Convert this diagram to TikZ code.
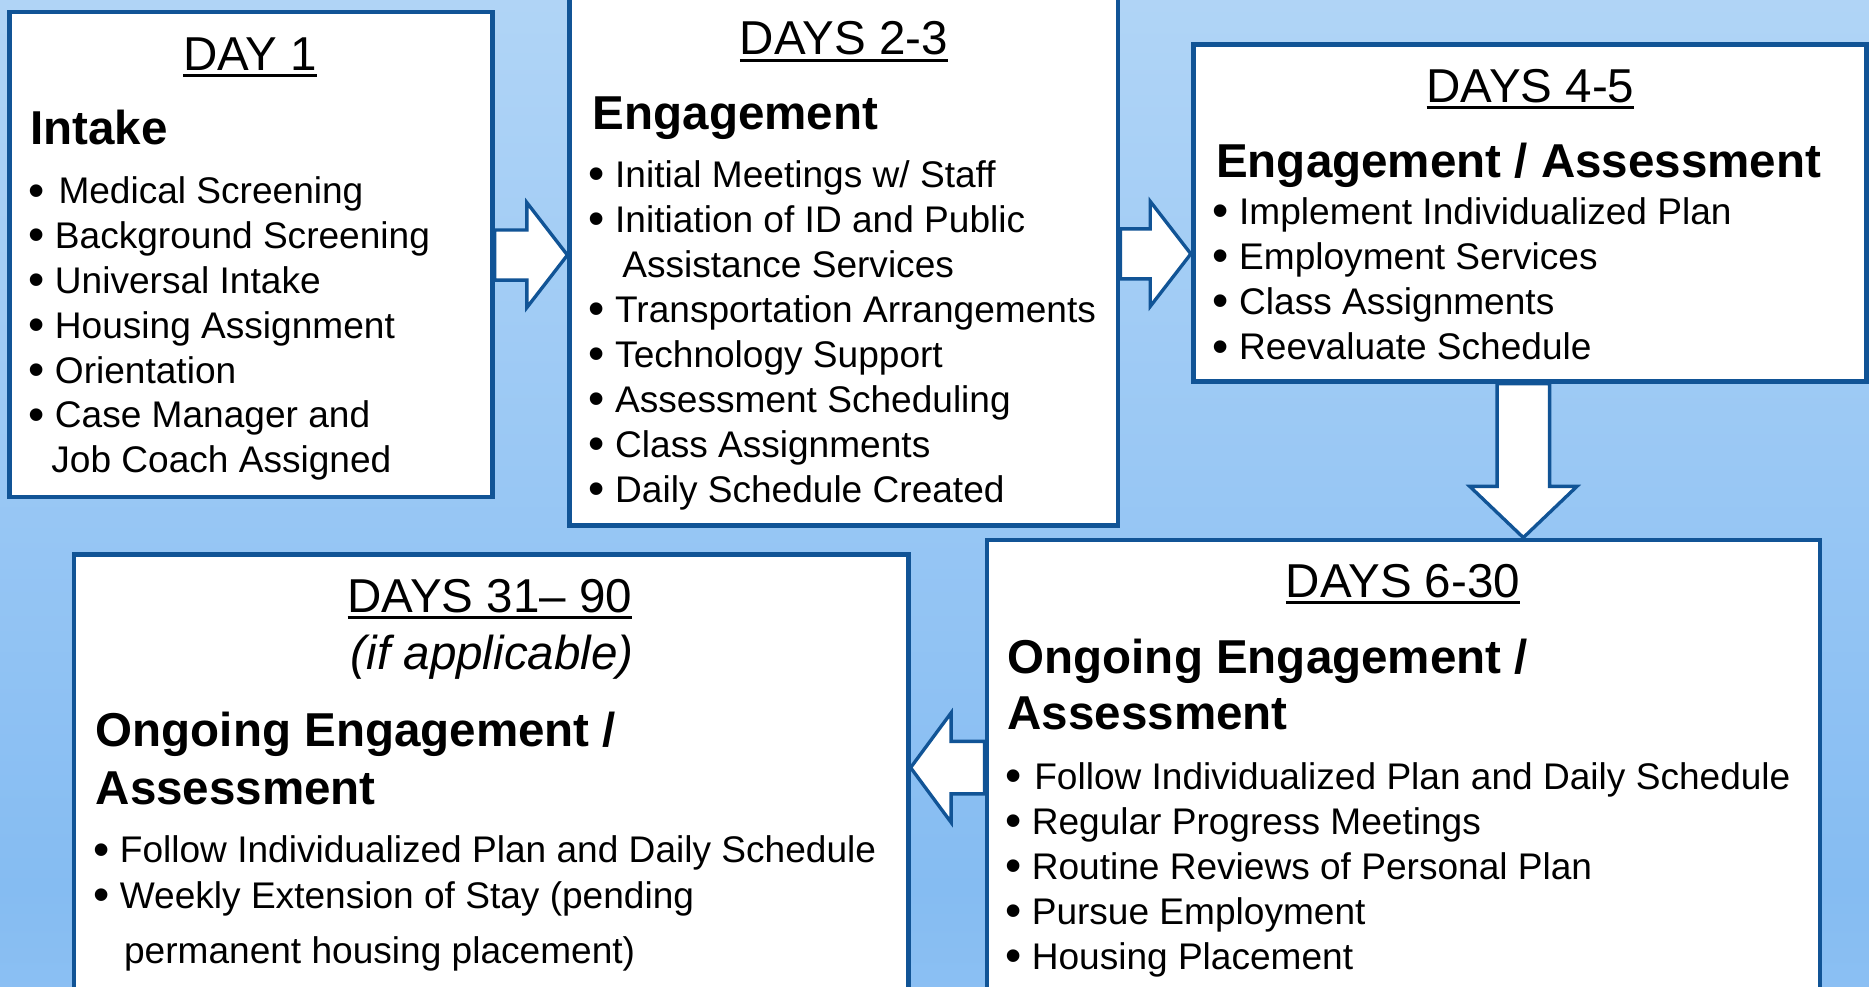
\documentclass[tikz,border=0pt]{standalone}
\usepackage{fontspec}
\setmainfont{Liberation Sans}
\usetikzlibrary{calc}

\definecolor{boxblue}{RGB}{17,84,150}
\definecolor{bgtop}{RGB}{200,226,249}
\definecolor{bgmid}{RGB}{133,188,242}
\definecolor{bgbot}{RGB}{168,208,246}

\pgfdeclareverticalshading{bgshade}{100bp}{color(0bp)=(bgbot); color(30bp)=(bgmid); color(100bp)=(bgtop)}
\pgfdeclarelayer{back}
\pgfdeclarelayer{mid}
\pgfsetlayers{back,mid,main}

% underlined day heading
\newcommand{\dayline}[1]{\setbox0\hbox{#1}\rlap{\rule[-3.2pt]{\wd0}{1.4pt}}\box0}
% list bullet
\newcommand{\bul}{\raisebox{-1.1pt}{\scalebox{1.25}{\textbullet}}\ }

\begin{document}
\begin{tikzpicture}[x=0.02cm, y=-0.02cm,
  box/.style={draw=boxblue, fill=white, line width=2.3pt, inner sep=0pt},
  blockarrow/.style={draw=boxblue, fill=white, line width=1.6pt, line join=miter},
  daytitle/.style={font=\fontsize{22.7}{27}\selectfont, anchor=base, inner sep=0pt},
  heading/.style={font=\fontsize{22.7}{27}\selectfont\bfseries, anchor=base west, inner sep=0pt},
  item/.style={font=\fontsize{17.7}{21}\selectfont, anchor=base west, inner sep=0pt}]

  % Picture size
  \useasboundingbox (0,0) rectangle (1568,828);
  \clip (0,0) rectangle (1568,828);

  % Background
  \begin{pgfonlayer}{back}
    \fill[shading=bgshade] (0,0) rectangle (1568,828);
  \end{pgfonlayer}

  % Boxes
  \node[box, minimum width=8.1cm, minimum height=8.14cm] (day1) at (210.5,213.5) {};
  \node[box, minimum width=9.2cm, minimum height=8.9cm] (day2) at (708,218.5) {};
  \node[box, minimum width=11.3cm, minimum height=5.66cm] (day3) at (1283.5,178.5) {};
  \node[box, minimum width=13.98cm, minimum height=7.74cm] (day4) at (1177.5,646.5) {};
  \node[box, minimum width=14cm, minimum height=7.5cm] (day5) at (412,652.5) {};

  % DAY 1
  \node[daytitle] (t1) at (210,59) {\dayline{DAY 1}};
  \node[heading] (h1) at (25,121) {Intake};
  \foreach \t [count=\i] in {{\bul\hspace{1.7pt}Medical Screening}, {\bul Background Screening},
      {\bul Universal Intake}, {\bul Housing Assignment}, {\bul Orientation},
      {\bul Case Manager and}, {\hphantom{\bul}\hspace{-1.7pt}Job Coach Assigned}}
    \node[item] (d1-\i) at (23.5,{171+(\i-1)*37.6}) {\t};

  % DAYS 2-3
  \node[daytitle] (t2) at (708,46) {\dayline{DAYS 2-3}};
  \node[heading] (h2) at (497,109) {Engagement};
  \foreach \t [count=\i] in {{\bul Initial Meetings w/ Staff}, {\bul Initiation of ID and Public},
      {\hphantom{\bul}\hspace{3.4pt}Assistance Services}, {\bul Transportation Arrangements},
      {\bul Technology Support}, {\bul Assessment Scheduling},
      {\bul Class Assignments}, {\bul Daily Schedule Created}}
    \node[item] (d2-\i) at (493.5,{157+(\i-1)*37.8}) {\t};

  % DAYS 4-5
  \node[daytitle] (t3) at (1284,86) {\dayline{DAYS 4-5}};
  \node[heading] (h3) at (1020,149) {Engagement / Assessment};
  \foreach \t [count=\i] in {Implement Individualized Plan, Employment Services,
      Class Assignments, Reevaluate Schedule}
    \node[item] (d3-\i) at (1017,{188+(\i-1)*38}) {\bul\t};

  % DAYS 6-30
  \node[daytitle] (t4) at (1177,501) {\dayline{DAYS 6-30}};
  \node[heading] (h4a) at (845,565) {Ongoing Engagement /};
  \node[heading] (h4b) at (845,612) {Assessment};
  \foreach \t [count=\i] in {{\hspace{1.2pt}Follow Individualized Plan and Daily Schedule}, Regular Progress Meetings,
      Routine Reviews of Personal Plan, Pursue Employment, Housing Placement}
    \node[item] (d4-\i) at (843,{662+(\i-1)*37.75}) {\bul\t};

  % DAYS 31-90
  \node[daytitle] (t5) at (411,514) {\dayline{DAYS 31\textendash{} 90}};
  \node[daytitle, font=\fontsize{22.7}{27}\selectfont\itshape] (t5b) at (413,562) {(if applicable)};
  \node[heading] (h5a) at (80,626) {Ongoing Engagement /};
  \node[heading] (h5b) at (80,675) {Assessment};
  \node[item] (d5-1) at (78,724) {\bul Follow Individualized Plan and Daily Schedule};
  \node[item] (d5-2) at (78,762) {\bul Weekly Extension of Stay (pending};
  \node[item] (d5-3) at (78,808) {\hphantom{\bul}\hspace{2pt}permanent housing placement)};

  % Block arrows
  \def\sh{21} % half shaft
  \def\hd{44} % half head
  \def\hl{34} % head length
  \begin{pgfonlayer}{mid}
    % day 1 -> days 2-3
    \coordinate (a12) at (day2.west |- 0,214);
    \draw[blockarrow] ($(day1.east |- a12)+(0,-\sh)$) -- ($(a12)+(-\hl,-\sh)$) -- ($(a12)+(-\hl,-\hd)$)
      -- (a12) -- ($(a12)+(-\hl,\hd)$) -- ($(a12)+(-\hl,\sh)$) -- ($(day1.east |- a12)+(0,\sh)$) -- cycle;
    % days 2-3 -> days 4-5
    \coordinate (a23) at (day3.west |- 0,213);
    \draw[blockarrow] ($(day2.east |- a23)+(0,-\sh)$) -- ($(a23)+(-\hl,-\sh)$) -- ($(a23)+(-\hl,-\hd)$)
      -- (a23) -- ($(a23)+(-\hl,\hd)$) -- ($(a23)+(-\hl,\sh)$) -- ($(day2.east |- a23)+(0,\sh)$) -- cycle;
    % days 4-5 -> days 6-30
    \coordinate (a34) at (1278,0 |- day4.north);
    \draw[blockarrow] ($(a34 |- day3.south)+(-22,0)$) -- ($(a34)+(-22,-43)$) -- ($(a34)+(-45,-43)$)
      -- (a34) -- ($(a34)+(45,-43)$) -- ($(a34)+(22,-43)$) -- ($(a34 |- day3.south)+(22,0)$) -- cycle;
    % days 6-30 -> days 31-90
    \coordinate (a45) at (day5.east |- 0,644);
    \draw[blockarrow] ($(day4.west |- a45)+(0,-22)$) -- ($(a45)+(\hl,-22)$) -- ($(a45)+(\hl,-46)$)
      -- (a45) -- ($(a45)+(\hl,46)$) -- ($(a45)+(\hl,22)$) -- ($(day4.west |- a45)+(0,22)$) -- cycle;
  \end{pgfonlayer}

\end{tikzpicture}
\end{document}
